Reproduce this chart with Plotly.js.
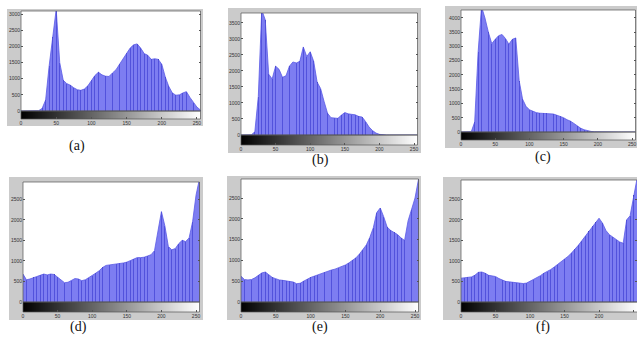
<!DOCTYPE html>
<html>
<head>
<meta charset="utf-8">
<script src="https://cdn.plot.ly/plotly-3.0.1.min.js"></script>
<style>html,body{margin:0;padding:0;background:#fff;}#chart{width:637px;height:337px;}</style>
</head>
<body>
<div id="chart"></div>
<script>
// ---- data ----
var xBins = [0,5,10,15,20,25,30,35,40,45,50,55,60,65,70,75,80,85,90,95,100,105,110,115,120,125,130,135,140,145,150,155,160,165,170,175,180,185,190,195,200,205,210,215,220,225,230,235,240,245,250,255];
var histA = [0,0,0,0,0,10,80,340,1400,2300,3150,1500,950,850,800,720,660,640,680,780,950,1100,1200,1120,1080,1070,1180,1280,1450,1620,1800,1950,2050,2080,1950,1780,1730,1600,1620,1600,1450,1050,760,560,490,500,560,600,420,250,120,30];
var histB = [0,0,0,5,100,1200,3900,3600,1900,1750,2150,2050,1800,1850,2150,2280,2250,2300,2750,2450,2600,2300,1650,1450,1050,680,540,520,520,620,700,660,640,630,580,560,420,250,140,60,20,5,0,0,0,0,0,0,0,0,0,0];
var histC = [0,0,0,10,350,2800,4400,4000,3500,3100,3250,3380,3420,3280,3080,3250,3300,1800,1150,900,780,720,680,660,650,650,650,630,590,550,500,430,380,300,210,130,80,40,20,8,3,0,0,0,0,0,0,0,0,0,0,0];
var histD = [680,540,560,600,620,650,680,660,680,670,600,540,470,480,520,570,560,520,540,590,630,700,760,840,890,900,910,930,940,950,970,1000,1040,1080,1080,1090,1120,1150,1250,1750,2200,1850,1350,1270,1300,1420,1500,1470,1560,1950,2600,3000];
var histE = [620,540,530,540,580,640,700,720,650,590,560,530,520,510,500,480,440,450,500,550,590,620,650,690,720,740,770,790,820,850,890,940,1000,1060,1150,1250,1370,1550,1780,2150,2260,2050,1800,1720,1680,1620,1540,1480,1950,2220,2500,2950];
var histF = [580,590,600,610,650,720,730,700,650,640,620,570,530,500,490,480,470,460,450,460,500,540,580,640,700,740,790,850,910,980,1040,1110,1190,1280,1380,1490,1600,1720,1840,1950,2040,1920,1740,1640,1580,1520,1460,1430,2000,2100,2600,3000];
var xTicks = [0,50,100,150,200,250];
var yTicksA = [0,500,1000,1500,2000,2500,3000];
var yTicksB = [0,500,1000,1500,2000,2500,3000,3500];
var yTicksC = [0,500,1000,1500,2000,2500,3000,3500,4000];
var yTicksD = [0,500,1000,1500,2000,2500];
var panelLabels = ['(a)','(b)','(c)','(d)','(e)','(f)'];
var grayLevels = Array.from({length:256}, function(_, k){ return k; });

// ---- layout geometry (pixels) ----
var W = 637, H = 337;
var panels = [
  {hist: histA, ticks: yTicksA, top: 3100, gray:[7,9,203,126],  plot:[21,11,200.5,111],  cbar:119, lab:[77,146]},
  {hist: histB, ticks: yTicksB, top: 3810, gray:[228,8,421,153], plot:[241,13,417.5,135], cbar:145, lab:[320,160]},
  {hist: histC, ticks: yTicksC, top: 4280, gray:[445,6,637,148], plot:[461,10,635.5,132], cbar:140, lab:[543,157]},
  {hist: histD, ticks: yTicksD, top: 2920, gray:[9,177,203,320], plot:[23,182,199.5,302], cbar:312, lab:[78,327]},
  {hist: histE, ticks: yTicksD, top: 2957, gray:[227,176,421,320],plot:[241,179,418.5,302],cbar:312, lab:[320,327]},
  {hist: histF, ticks: yTicksD, top: 2970, gray:[443,177,637,320],plot:[461,180,637.5,302],cbar:312, lab:[543,327]}
];

function px(x){ return x / W; }
function py(y){ return 1 - y / H; }

var traces = [];
var layout = {
  width: W, height: H,
  margin: {l:0, r:0, t:0, b:0},
  paper_bgcolor: '#ffffff',
  plot_bgcolor: '#ffffff',
  showlegend: false,
  bargap: 0,
  barmode: 'overlay',
  shapes: [],
  annotations: [],
  font: {family: 'Liberation Sans, Arial, sans-serif', size: 5, color: '#333'}
};

panels.forEach(function(p, i){
  var n = i + 1;
  var xa = n === 1 ? 'x' : 'x' + n;
  var yh = (2*n - 1) === 1 ? 'y' : 'y' + (2*n - 1);
  var yc = 'y' + (2*n);
  var xKey = n === 1 ? 'xaxis' : 'xaxis' + n;
  var yhKey = (2*n - 1) === 1 ? 'yaxis' : 'yaxis' + (2*n - 1);
  var ycKey = 'yaxis' + (2*n);
  var pl = p.plot;

  // colorbar (gray ramp)
  traces.push({
    type: 'heatmap', x: grayLevels, y: [0], z: [grayLevels],
    colorscale: [[0,'#000000'],[1,'#ffffff']], zmin: 0, zmax: 255,
    showscale: false, hoverinfo: 'skip', xaxis: xa, yaxis: yc
  });
  // darker stem stripes (drawn beneath the translucent fill)
  traces.push({
    type: 'bar', x: xBins, y: p.hist, width: 1.2,
    marker: {color: 'rgb(40,40,150)', line: {width: 0}},
    xaxis: xa, yaxis: yh, hoverinfo: 'skip'
  });
  // histogram area
  traces.push({
    type: 'scatter', mode: 'lines', x: xBins, y: p.hist,
    fill: 'tozeroy', fillcolor: 'rgba(92,92,238,0.80)',
    line: {color: '#5a5ae6', width: 0.8, shape: 'linear'},
    xaxis: xa, yaxis: yh, hoverinfo: 'skip'
  });

  layout[xKey] = {
    domain: [px(pl[0]), px(pl[2])], range: [0, 255], anchor: yc,
    tickvals: xTicks, ticks: 'inside', ticklen: 2, tickcolor: '#555',
    tickfont: {size: 5, color: '#333'}, showgrid: false, zeroline: false, showline: false,
    fixedrange: true
  };
  layout[yhKey] = {
    domain: [py(pl[3]), py(pl[1])], range: [0, p.top], anchor: xa,
    tickvals: p.ticks, ticks: 'inside', ticklen: 2, tickcolor: '#555', mirror: 'ticks',
    tickfont: {size: 5, color: '#333'}, showgrid: false, zeroline: false, showline: false,
    fixedrange: true
  };
  layout[ycKey] = {
    domain: [py(p.cbar), py(pl[3])], range: [-0.5, 0.5], anchor: xa,
    showticklabels: false, ticks: '', showgrid: false, zeroline: false, showline: false,
    fixedrange: true
  };

  // gray figure background
  layout.shapes.push({type:'rect', xref:'paper', yref:'paper', layer:'below',
    x0: px(p.gray[0]), x1: px(p.gray[2]), y0: py(p.gray[3]), y1: py(p.gray[1]),
    fillcolor: '#cbcbcb', line: {width: 0}});
  // white plot area
  layout.shapes.push({type:'rect', xref:'paper', yref:'paper', layer:'below',
    x0: px(pl[0]), x1: px(pl[2]), y0: py(pl[3]), y1: py(pl[1]),
    fillcolor: '#ffffff', line: {width: 0}});
  // box around histogram
  layout.shapes.push({type:'rect', xref:'paper', yref:'paper', layer:'above',
    x0: px(pl[0]), x1: px(pl[2]), y0: py(pl[3]), y1: py(pl[1]),
    fillcolor: 'rgba(0,0,0,0)', line: {width: 0.7, color: '#555'}});
  // box around colorbar
  layout.shapes.push({type:'rect', xref:'paper', yref:'paper', layer:'above',
    x0: px(pl[0]), x1: px(pl[2]), y0: py(p.cbar), y1: py(pl[3]),
    fillcolor: 'rgba(0,0,0,0)', line: {width: 0.7, color: '#555'}});

  layout.annotations.push({
    xref: 'paper', yref: 'paper', x: px(p.lab[0]), y: py(p.lab[1]),
    xanchor: 'center', yanchor: 'middle', showarrow: false,
    text: panelLabels[i],
    font: {family: 'Liberation Serif', size: 14, color: '#111'}
  });
});

Plotly.newPlot('chart', traces, layout, {displayModeBar: false, staticPlot: true});
</script>
</body>
</html>
